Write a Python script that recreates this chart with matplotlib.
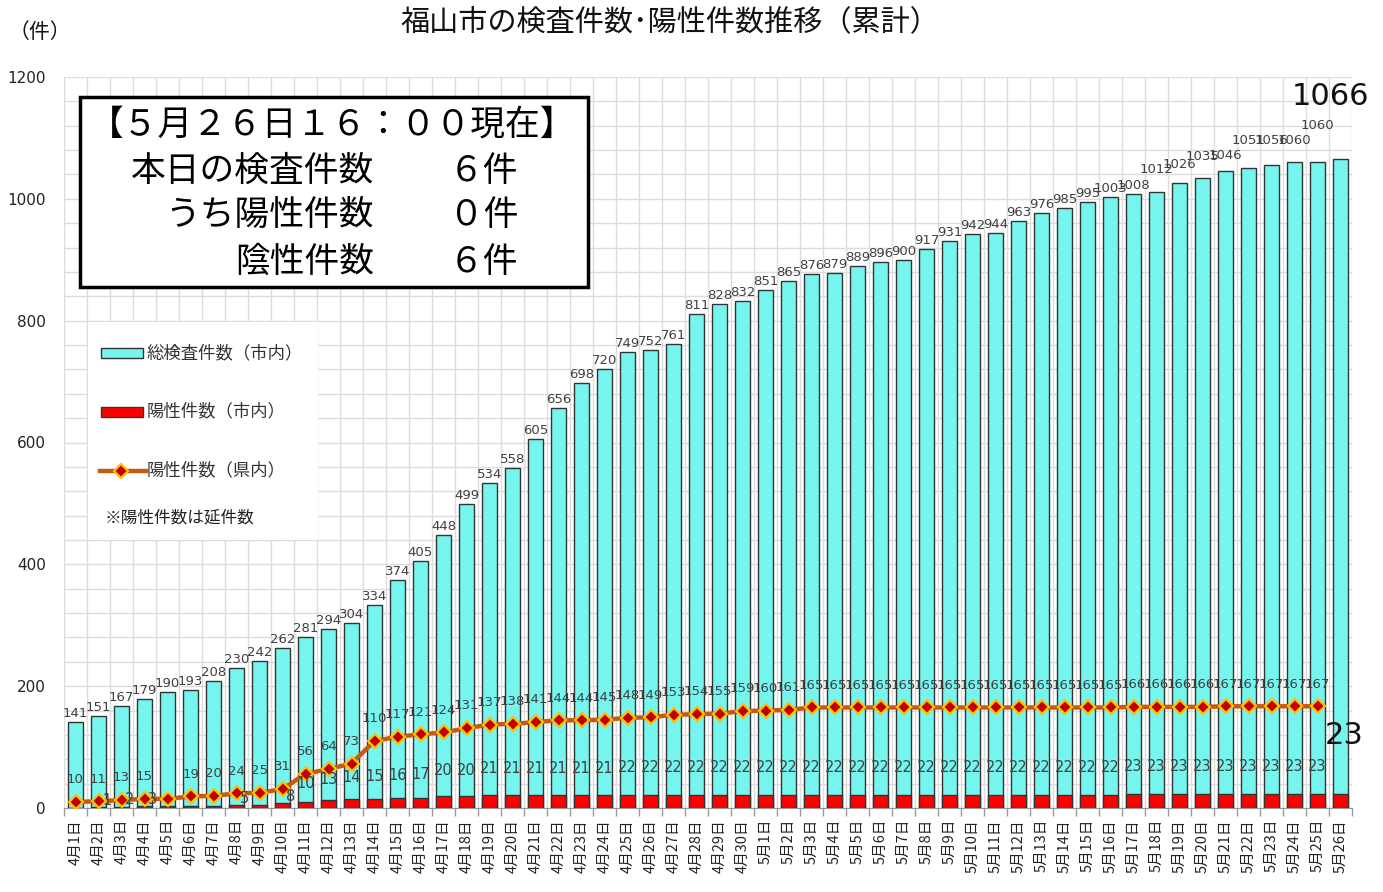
import matplotlib
matplotlib.use('Agg')
import matplotlib.pyplot as plt
from matplotlib.patches import Rectangle
from matplotlib.lines import Line2D
import numpy as np

plt.rcParams['font.family'] = ['Noto Sans CJK JP', 'DejaVu Sans']

# ---------------- data ----------------
dates = [f'4月{d}日' for d in range(1, 31)] + [f'5月{d}日' for d in range(1, 27)]

total_city = [141, 151, 167, 179, 190, 193, 208, 230, 242, 262,
              281, 294, 304, 334, 374, 405, 448, 499, 534, 558,
              605, 656, 698, 720, 749, 752, 761, 811, 828, 832,
              851, 865, 876, 879, 889, 896, 900, 917, 931, 942,
              944, 963, 976, 985, 995, 1003, 1008, 1012, 1026, 1035,
              1046, 1051, 1056, 1060, 1060, 1066]

positive_city = [0, 1, 2, 3, 3, 3, 3, 5, 5, 8,
                 10, 13, 14, 15, 16, 17, 20, 20, 21, 21,
                 21, 21, 21, 21, 22, 22, 22, 22, 22, 22,
                 22, 22, 22, 22, 22, 22, 22, 22, 22, 22,
                 22, 22, 22, 22, 22, 22, 23, 23, 23, 23,
                 23, 23, 23, 23, 23, 23]

positive_pref = [10, 11, 13, 15, 15, 19, 20, 24, 25, 31,
                 56, 64, 73, 110, 117, 121, 124, 131, 137, 138,
                 141, 144, 144, 145, 148, 149, 153, 154, 155, 159,
                 160, 161, 165, 165, 165, 165, 165, 165, 165, 165,
                 165, 165, 165, 165, 165, 165, 166, 166, 166, 166,
                 167, 167, 167, 167, 167, np.nan]

# ---------------- figure ----------------
W, H = 1383, 892
fig = plt.figure(figsize=(W / 100, H / 100), dpi=100)
ax = fig.add_axes([64 / W, 84 / H, 1288 / W, 731 / H])

def fx(x):
    return x / W

def fy(y):
    return 1 - y / H

x = np.arange(len(dates))
CYAN = '#75F5EE'
RED = '#FF0000'
LINEC = '#C55A11'
LBL = '#404040'

ax.bar(x, total_city, width=0.62, color=CYAN, edgecolor='#333333', linewidth=1.0, zorder=2)
ax.bar(x, positive_city, width=0.62, color=RED, edgecolor='#333333', linewidth=1.0, zorder=3)
ax.plot(x, positive_pref, color=LINEC, lw=3.2, marker='D', markersize=7,
        markerfacecolor='#C00000', markeredgecolor='#FFC000', markeredgewidth=1.6, zorder=4)

ax.set_xlim(-0.5, len(dates) - 0.5)
ax.set_ylim(0, 1200)

# grid
ax.set_yticks(np.arange(0, 1201, 200))
ax.set_yticks(np.arange(0, 1201, 40), minor=True)
ax.set_xticks(x)
ax.set_xticks(np.arange(-0.5, len(dates), 1.0), minor=True)
ax.grid(which='minor', color='#DCDCDC', lw=1.0, zorder=0)
ax.grid(which='major', axis='y', color='#DCDCDC', lw=1.0, zorder=0)
ax.set_axisbelow(True)

ax.set_xticklabels(dates, rotation=90, fontsize=10.5, color='#222222')
ax.tick_params(axis='x', which='major', length=0, pad=8)
ax.tick_params(axis='x', which='minor', length=6, color='#999999', width=1)
ax.tick_params(axis='y', which='both', length=0, pad=13)
ax.set_yticklabels([str(v) for v in range(0, 1201, 200)], fontsize=11,
                   family='DejaVu Sans', color='#222222')
for s in ['left', 'top', 'right']:
    ax.spines[s].set_visible(False)
ax.spines['bottom'].set_color('#999999')

# ---------------- data labels ----------------
lift = {47: 16, 48: 12, 49: 15, 50: 9, 51: 21, 52: 18, 53: 15, 54: 30}
for i, v in enumerate(total_city[:-1]):
    ax.annotate(str(v), (i, v), xytext=(0, lift.get(i, 2) * 0.72), textcoords='offset points',
                ha='center', va='bottom', fontsize=9.5, color=LBL, family='DejaVu Sans', zorder=6)
ax.annotate(str(total_city[-1]), (x[-1], total_city[-1]), xytext=(-7, 45), textcoords='offset points',
            ha='center', va='center', fontsize=22, color='#111111', family='DejaVu Sans', zorder=6)

hide_red = {0, 4, 5, 6, 8}
for i, v in enumerate(positive_city[:-1]):
    if i in hide_red:
        continue
    if i < 10:
        ax.annotate(str(v), (i, v), xytext=(6, 5), textcoords='offset points',
                    ha='center', va='center', fontsize=10.5, color=LBL, family='DejaVu Sans', zorder=6)
    else:
        ax.text(i, 20 + 2.1 * v, str(v), ha='center', va='center', fontsize=10.5,
                color=LBL, family='DejaVu Sans', zorder=6)
ax.annotate(str(positive_city[-1]), (x[-1], positive_city[-1]), xytext=(3, 42), textcoords='offset points',
            ha='center', va='center', fontsize=22, color='#111111', family='DejaVu Sans', zorder=6)

for i, v in enumerate(positive_pref):
    if np.isnan(v) or i == 4:
        continue
    ax.annotate(str(int(v)), (i, v), xytext=(0, 16), textcoords='offset points',
                ha='center', va='center', fontsize=9.5, color=LBL, family='DejaVu Sans', zorder=6)

# ---------------- titles ----------------
fig.text(fx(670), fy(22), '福山市の検査件数･陽性件数推移（累計）', ha='center', va='center',
         fontsize=21, color='#111111')
fig.text(fx(40), fy(32), '（件）', ha='center', va='center', fontsize=15, color='#111111')

# ---------------- info box ----------------
fig.add_artist(Rectangle((fx(80), fy(287)), fx(588) - fx(80), fy(97) - fy(287),
                         transform=fig.transFigure, facecolor='white', edgecolor='black',
                         lw=2.5, zorder=5))
fig.text(fx(332), fy(125), '【５月２６日１６：００現在】', ha='center', va='center',
         fontsize=25, zorder=6)
rows = [('本日の検査件数', '６件', 171), ('うち陽性件数', '０件', 216), ('陰性件数', '６件', 262)]
for lab, val, yy in rows:
    fig.text(fx(374), fy(yy), lab, ha='right', va='center', fontsize=25, zorder=6)
    fig.text(fx(449), fy(yy), val, ha='left', va='center', fontsize=25, zorder=6)

# ---------------- legend ----------------
fig.add_artist(Rectangle((fx(88), fy(540)), fx(318) - fx(88), fy(322) - fy(540),
                         transform=fig.transFigure, facecolor='white', edgecolor='none', zorder=5))
fig.add_artist(Rectangle((fx(101), fy(358)), fx(143) - fx(101), fy(348) - fy(358),
                         transform=fig.transFigure, facecolor=CYAN, edgecolor='#333333', lw=1, zorder=6))
fig.add_artist(Rectangle((fx(101), fy(417)), fx(143) - fx(101), fy(407) - fy(417),
                         transform=fig.transFigure, facecolor=RED, edgecolor='#333333', lw=1, zorder=6))
fig.add_artist(Line2D([fx(100), fx(146)], [fy(470.5), fy(470.5)], transform=fig.transFigure,
                      color=LINEC, lw=3.2, zorder=6))
fig.add_artist(Line2D([fx(121.5)], [fy(470.5)], transform=fig.transFigure, marker='D', markersize=7,
                      markerfacecolor='#C00000', markeredgecolor='#FFC000', markeredgewidth=1.6, zorder=7))
leg_txt = [('総検査件数（市内）', 353), ('陽性件数（市内）', 411), ('陽性件数（県内）', 470)]
for t, yy in leg_txt:
    fig.text(fx(147), fy(yy), t, ha='left', va='center', fontsize=12.5, color='#333333', zorder=7)
fig.text(fx(105), fy(518), '※陽性件数は延件数', ha='left', va='center', fontsize=12, color='#222222', zorder=7)

fig.savefig('out.png', dpi=100)
